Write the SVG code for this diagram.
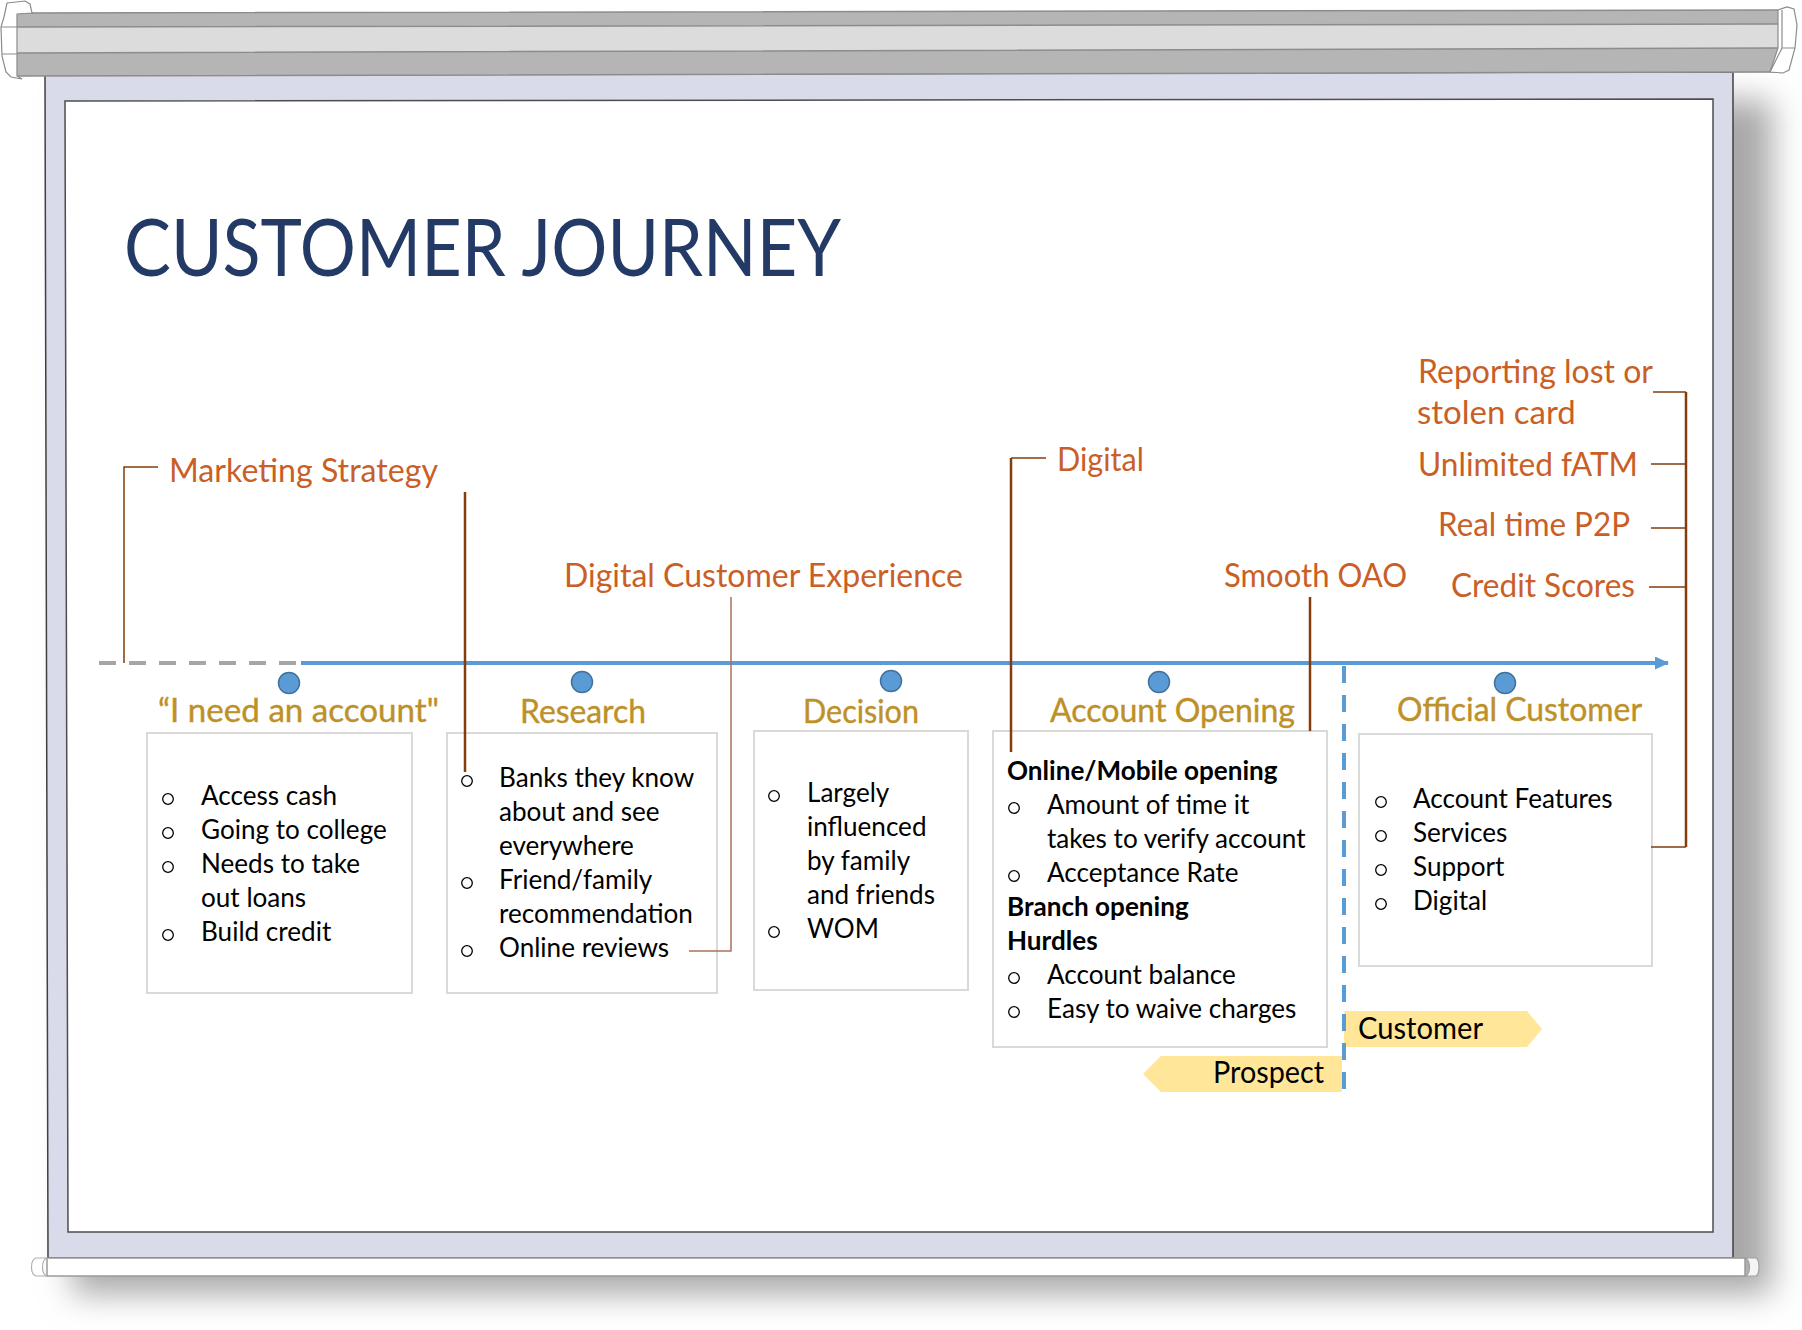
<svg xmlns="http://www.w3.org/2000/svg" width="1802" height="1330" viewBox="0 0 1802 1330">
  <defs>
    <filter id="soft" x="-10%" y="-10%" width="120%" height="120%">
      <feGaussianBlur stdDeviation="16"/>
    </filter>
    <marker id="arrow" markerUnits="userSpaceOnUse" markerWidth="14" markerHeight="13" refX="13" refY="6.5" orient="auto">
      <path d="M0,0 L14,6.5 L0,13 z" fill="#5b9bd5"/>
    </marker>
    <style>
      text { font-family: Lato, "Open Sans", "Liberation Sans", sans-serif; }
      .title { font-size: 80px; fill: #243a66; }
      .lbl { font-size: 33px; fill: #c95f27; }
      .phase { font-size: 33px; fill: #bd9128; stroke: #bd9128; stroke-width: 0.4; }
      .body { font-size: 26.1px; fill: #000; }
      .bold { font-weight: bold; }
      .tag { font-size: 30px; fill: #000; }
      .box { fill: #fff; stroke: #d9d9d9; stroke-width: 2; }
      .bul { fill: none; stroke: #000; stroke-width: 1.3; }
      .dot { fill: #5b9bd5; stroke: #41719c; stroke-width: 1.5; }
      .tagbg { fill: #ffe699; }
      .lead { fill: none; stroke: #843c0c; stroke-width: 2.5; }
      .lead-thin { fill: none; stroke: #843c0c; stroke-width: 1.5; }
      .bar-line { fill: none; stroke: #8c8c8c; stroke-width: 1.5; }
    </style>
  </defs>

  <!-- projection screen -->
  <g id="screen">
    <rect x="72" y="100" width="1700" height="1194" fill="#a8a8a8" filter="url(#soft)"/>
    <polygon points="45,75 1733,72 1733,1258 48,1258" fill="#d9dbea" stroke="#404040" stroke-width="1.5"/>
    <polygon points="65,101 1713,99 1713,1232 68,1232" fill="#ffffff" stroke="#4d4d4d" stroke-width="1.5"/>
    <!-- roller housing -->
    <polygon points="17,13 1778,10 1778,24 17,27" fill="#b5b5b5"/>
    <polygon points="17,27 1778,24 1778,48 17,53" fill="#dcdcdc"/>
    <polygon points="17,53 1778,48 1778,72 17,76" fill="#b5b5b5"/>
    <path class="bar-line" d="M17,13 L1778,10 M17,27 L1778,24 M17,53 L1778,48 M17,76 L1778,72"/>
    <polygon points="7,3 25,1 30,4 32,13 17,14 17,76 22,79 11,77 6,72 2,56 1,27 4,17" fill="#ffffff" stroke="#8c8c8c" stroke-width="1.2"/>
    <path d="M1,27 H17 M2,54 H17" fill="none" stroke="#8c8c8c" stroke-width="1.2"/>
    <polygon points="1778,10 1787,7 1794,9 1797,25 1795,48 1789,70 1783,73 1770,72 1778,48 1778,10" fill="#ffffff" stroke="#8c8c8c" stroke-width="1.2"/>
    <path d="M1782,10 V48 L1770,72 M1782,48 H1795" fill="none" stroke="#8c8c8c" stroke-width="1.2"/>
    <!-- bottom rail -->
    <rect x="47" y="1258" width="1698" height="18" fill="#ffffff" stroke="#9a9a9a" stroke-width="1.5"/>
    <path d="M47,1258 C41,1260 41,1274 47,1276 H36 C30,1274 30,1260 36,1258 Z" fill="#ffffff" stroke="#b0b0b0" stroke-width="1.2"/>
    <path d="M1745,1258 C1751,1260 1751,1274 1745,1276 H1756 C1760,1274 1760,1260 1756,1258 Z" fill="#f4f4f4" stroke="#a0a0a0" stroke-width="1.2"/>
  </g>

  <text id="title" class="title" x="124" y="276" textLength="717" lengthAdjust="spacingAndGlyphs">CUSTOMER JOURNEY</text>

  <!-- stage 1 -->
  <g id="stage-need">
    <circle class="dot" cx="289" cy="683" r="10.5"/>
    <text class="phase" x="158" y="722" textLength="281" lengthAdjust="spacingAndGlyphs">“I need an account"</text>
    <rect class="box" x="147" y="733" width="265" height="260"/>
    <circle class="bul" cx="168" cy="799" r="5.3"/>
    <circle class="bul" cx="168" cy="833" r="5.3"/>
    <circle class="bul" cx="168" cy="867" r="5.3"/>
    <circle class="bul" cx="168" cy="935" r="5.3"/>
    <text class="body" x="201" y="805">Access cash</text>
    <text class="body" x="201" y="839">Going to college</text>
    <text class="body" x="201" y="873">Needs to take</text>
    <text class="body" x="201" y="907">out loans</text>
    <text class="body" x="201" y="941">Build credit</text>
  </g>

  <!-- stage 2 -->
  <g id="stage-research">
    <circle class="dot" cx="582" cy="682" r="10.5"/>
    <text class="phase" x="520" y="723" textLength="126" lengthAdjust="spacingAndGlyphs">Research</text>
    <rect class="box" x="447" y="733" width="270" height="260"/>
    <circle class="bul" cx="467" cy="781" r="5.3"/>
    <circle class="bul" cx="467" cy="883" r="5.3"/>
    <circle class="bul" cx="467" cy="951" r="5.3"/>
    <text class="body" x="499" y="787">Banks they know</text>
    <text class="body" x="499" y="821">about and see</text>
    <text class="body" x="499" y="855">everywhere</text>
    <text class="body" x="499" y="889">Friend/family</text>
    <text class="body" x="499" y="923">recommendation</text>
    <text class="body" x="499" y="957">Online reviews</text>
  </g>

  <!-- stage 3 -->
  <g id="stage-decision">
    <circle class="dot" cx="891" cy="681" r="10.5"/>
    <text class="phase" x="803" y="723" textLength="116" lengthAdjust="spacingAndGlyphs">Decision</text>
    <rect class="box" x="754" y="731" width="214" height="259"/>
    <circle class="bul" cx="774" cy="796" r="5.3"/>
    <circle class="bul" cx="774" cy="932" r="5.3"/>
    <text class="body" x="807" y="802">Largely</text>
    <text class="body" x="807" y="836">influenced</text>
    <text class="body" x="807" y="870">by family</text>
    <text class="body" x="807" y="904">and friends</text>
    <text class="body" x="807" y="938">WOM</text>
  </g>

  <!-- stage 4 -->
  <g id="stage-opening">
    <circle class="dot" cx="1159" cy="682" r="10.5"/>
    <text class="phase" x="1050" y="722" textLength="245" lengthAdjust="spacingAndGlyphs">Account Opening</text>
    <rect class="box" x="993" y="731" width="334" height="316"/>
    <text class="body bold" x="1007" y="780">Online/Mobile opening</text>
    <circle class="bul" cx="1014" cy="808" r="5.3"/>
    <text class="body" x="1047" y="814">Amount of time it</text>
    <text class="body" x="1047" y="848">takes to verify account</text>
    <circle class="bul" cx="1014" cy="876" r="5.3"/>
    <text class="body" x="1047" y="882">Acceptance Rate</text>
    <text class="body bold" x="1007" y="916">Branch opening</text>
    <text class="body bold" x="1007" y="950">Hurdles</text>
    <circle class="bul" cx="1014" cy="978" r="5.3"/>
    <text class="body" x="1047" y="984">Account balance</text>
    <circle class="bul" cx="1014" cy="1012" r="5.3"/>
    <text class="body" x="1047" y="1018">Easy to waive charges</text>
  </g>

  <!-- stage 5 -->
  <g id="stage-customer">
    <circle class="dot" cx="1505" cy="683" r="10.5"/>
    <text class="phase" x="1397" y="721" textLength="245" lengthAdjust="spacingAndGlyphs">Official Customer</text>
    <rect class="box" x="1359" y="734" width="293" height="232"/>
    <circle class="bul" cx="1381" cy="802" r="5.3"/>
    <circle class="bul" cx="1381" cy="836" r="5.3"/>
    <circle class="bul" cx="1381" cy="870" r="5.3"/>
    <circle class="bul" cx="1381" cy="904" r="5.3"/>
    <text class="body" x="1413" y="808">Account Features</text>
    <text class="body" x="1413" y="842">Services</text>
    <text class="body" x="1413" y="876">Support</text>
    <text class="body" x="1413" y="910">Digital</text>
  </g>

  <!-- status tags -->
  <g id="tag-prospect">
    <polygon class="tagbg" points="1143,1074 1161,1056 1342,1056 1342,1092 1161,1092"/>
    <text class="tag" x="1213" y="1083" textLength="111" lengthAdjust="spacingAndGlyphs">Prospect</text>
  </g>
  <g id="tag-customer">
    <polygon class="tagbg" points="1344,1011 1527,1011 1542,1029 1527,1047 1344,1047"/>
    <text class="tag" x="1358" y="1039" textLength="125" lengthAdjust="spacingAndGlyphs">Customer</text>
  </g>

  <!-- callout labels -->
  <g id="callout-marketing">
    <text class="lbl" x="169" y="482" textLength="269" lengthAdjust="spacingAndGlyphs">Marketing Strategy</text>
  </g>
  <g id="callout-dce">
    <text class="lbl" x="564" y="587" textLength="399" lengthAdjust="spacingAndGlyphs">Digital Customer Experience</text>
  </g>
  <g id="callout-digital">
    <text class="lbl" x="1057" y="471" textLength="87" lengthAdjust="spacingAndGlyphs">Digital</text>
  </g>
  <g id="callout-oao">
    <text class="lbl" x="1224" y="587" textLength="183" lengthAdjust="spacingAndGlyphs">Smooth OAO</text>
  </g>
  <g id="callout-features">
    <text class="lbl" x="1418" y="383" textLength="235" lengthAdjust="spacingAndGlyphs">Reporting lost or</text>
    <text class="lbl" x="1417" y="424">stolen card</text>
    <text class="lbl" x="1418" y="476" textLength="220" lengthAdjust="spacingAndGlyphs">Unlimited fATM</text>
    <text class="lbl" x="1438" y="536" textLength="192" lengthAdjust="spacingAndGlyphs">Real time P2P</text>
    <text class="lbl" x="1451" y="597" textLength="184" lengthAdjust="spacingAndGlyphs">Credit Scores</text>
  </g>

  <!-- connectors: timeline, boundary and callout leaders -->
  <g id="connectors">
    <line x1="99" y1="663" x2="296" y2="663" stroke="#a6a6a6" stroke-width="4" stroke-dasharray="17 13"/>
    <line x1="301" y1="663" x2="1668" y2="663" stroke="#5b9bd5" stroke-width="4" marker-end="url(#arrow)"/>
    <line x1="1344" y1="666" x2="1344" y2="1094" stroke="#5b9bd5" stroke-width="4" stroke-dasharray="17 12"/>
    <path class="lead-thin" d="M158,467 H124 V663"/>
    <path class="lead" d="M465,492 V772"/>
    <path d="M731,597 V951 H689" fill="none" stroke="#a9725a" stroke-width="1.5"/>
    <path class="lead-thin" d="M1046,458 H1011"/>
    <path class="lead" d="M1011,458 V752"/>
    <path class="lead" d="M1310,597 V731"/>
    <path class="lead-thin" d="M1653,392 H1686 M1651,464 H1686 M1651,528 H1686 M1649,587 H1686 M1651,847 H1686"/>
    <path class="lead" d="M1686,392 V847"/>
  </g>
</svg>
